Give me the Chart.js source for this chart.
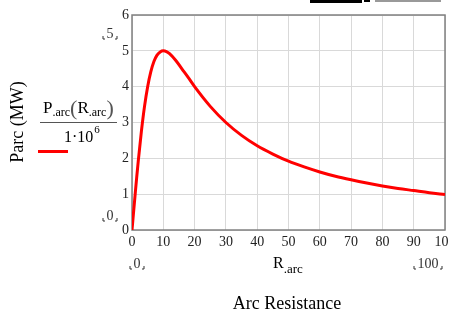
<!DOCTYPE html>
<html><head><meta charset="utf-8">
<script src="https://cdn.jsdelivr.net/npm/chart.js@4/dist/chart.umd.min.js"></script>
<style>html,body{margin:0;padding:0;background:#fff;overflow:hidden}#wrap{width:449px;height:312px;position:relative}</style>
</head><body><div id="wrap"><canvas id="c" width="449" height="312"></canvas></div>
<script>
const rArc = [0,0.5,1,1.5,2,3,4,5,6,7,8,9,10,11,12,14,16,18,20,25,30,35,40,45,50,55,60,65,70,75,80,85,90,95,100];
const pArc = [0,0.50,0.99,1.47,1.92,2.75,3.45,4.0,4.41,4.70,4.88,4.97,5.0,4.98,4.92,4.73,4.49,4.25,4.0,3.45,3.0,2.64,2.35,2.12,1.92,1.76,1.62,1.50,1.40,1.31,1.23,1.16,1.10,1.04,0.99];
const xTicks = [0,10,20,30,40,50,60,70,80,90,100];
const yTicks = [0,1,2,3,4,5,6];

const SERIF = '"Liberation Serif","Times New Roman",serif';
const points = rArc.map((r,i)=>({x:r,y:pArc[i]}));

function corners(ctx, x1, x2, y){
  ctx.save();ctx.strokeStyle='#333';ctx.lineWidth=1;
  ctx.beginPath();
  ctx.moveTo(x1,y-3);ctx.lineTo(x1,y);ctx.lineTo(x1+2,y);
  ctx.moveTo(x2,y-3);ctx.lineTo(x2,y);ctx.lineTo(x2-2,y);
  ctx.stroke();ctx.restore();
}

const extras = {
  id:'extras',
  beforeDatasetsDraw(chart){
    const a = chart.chartArea, ctx = chart.ctx;
    ctx.save();ctx.strokeStyle='#808080';ctx.lineWidth=1.5;
    ctx.strokeRect(a.left,a.top,a.right-a.left,a.bottom-a.top);
    ctx.restore();
  },
  afterDraw(chart){
    const ctx = chart.ctx;
    ctx.save();
    // top-right cut fragments
    ctx.fillStyle='#000';ctx.fillRect(310,0,52,3);ctx.fillRect(364,0,6,2);
    ctx.fillStyle='#999';ctx.fillRect(375,0,66,2);
    // y title rotated
    ctx.fillStyle='#000';
    ctx.font='18px '+SERIF;
    ctx.translate(18,122);ctx.rotate(-Math.PI/2);
    ctx.textAlign='center';ctx.textBaseline='middle';
    ctx.fillText('Parc (MW)',0,0);
    ctx.setTransform(1,0,0,1,0,0);
    // numerator
    ctx.textAlign='left';ctx.textBaseline='alphabetic';
    let x=43, base=113;
    ctx.font='17px '+SERIF;ctx.fillText('P',x,base);x+=ctx.measureText('P').width;
    ctx.font='12px '+SERIF;ctx.fillText('.arc',x,base+3);x+=ctx.measureText('.arc').width;
    ctx.font='22px '+SERIF;ctx.fillStyle='#555';ctx.fillText('(',x,base+2);x+=ctx.measureText('(').width;
    ctx.fillStyle='#000';
    ctx.font='17px '+SERIF;ctx.fillText('R',x,base);x+=ctx.measureText('R').width;
    ctx.font='12px '+SERIF;ctx.fillText('.arc',x,base+3);x+=ctx.measureText('.arc').width;
    ctx.font='22px '+SERIF;ctx.fillStyle='#555';ctx.fillText(')',x,base+2);
    ctx.fillStyle='#000';
    // fraction bar
    ctx.strokeStyle='#555';ctx.lineWidth=1;
    ctx.beginPath();ctx.moveTo(40,122.5);ctx.lineTo(117,122.5);ctx.stroke();
    // denominator
    ctx.font='16px '+SERIF;ctx.fillText('1\u00b710',64,142);
    let dw=ctx.measureText('1\u00b710').width;
    ctx.font='11px '+SERIF;ctx.fillText('6',64+dw+1,133);
    // legend line
    ctx.fillStyle='#ff0000';ctx.fillRect(38,150,30,3);
    // placeholders
    ctx.fillStyle='#333';ctx.font='14px '+SERIF;ctx.textAlign='center';
    ctx.fillText('5',110,38);corners(ctx,103,117,39);
    ctx.fillText('0',110,220);corners(ctx,103,117,221);
    ctx.fillText('0',137,268);corners(ctx,130,144,269);
    ctx.fillText('100',428,268);corners(ctx,414,442,269);
    // R.arc label
    ctx.fillStyle='#000';ctx.textAlign='left';
    ctx.font='16px '+SERIF;ctx.fillText('R',273,268);
    let w=ctx.measureText('R').width;
    ctx.font='13px '+SERIF;ctx.fillText('.arc',273+w,273);
    // x title
    ctx.textAlign='center';ctx.font='18px '+SERIF;
    ctx.fillText('Arc Resistance',287,309);
    ctx.restore();
  }
};

new Chart(document.getElementById('c'),{
  type:'scatter',
  data:{datasets:[{data:points,showLine:true,borderColor:'#ff0000',borderWidth:3,pointRadius:0,cubicInterpolationMode:'monotone',fill:false}]},
  options:{
    responsive:false,animation:false,
    layout:{padding:{top:15,right:4,left:0,bottom:0}},
    plugins:{legend:{display:false},tooltip:{enabled:false}},
    scales:{
      x:{type:'linear',min:0,max:100,
        afterBuildTicks(s){s.ticks=xTicks.map(v=>({value:v}));},
        afterFit(s){s.height=82;s.paddingLeft=0;s.paddingRight=0;},
        ticks:{color:'#222',font:{family:SERIF,size:14},padding:4,maxRotation:0,autoSkip:false},
        grid:{color:'#d9d9d9',lineWidth:1,drawTicks:false},
        border:{display:false}},
      y:{min:0,max:6,
        afterBuildTicks(s){s.ticks=yTicks.map(v=>({value:v}));},
        afterFit(s){s.width=132;s.paddingTop=0;s.paddingBottom=0;},
        ticks:{color:'#222',font:{family:SERIF,size:14},padding:3},
        grid:{color:'#d9d9d9',lineWidth:1,drawTicks:false},
        border:{display:false}}
    }
  },
  plugins:[extras]
});
</script></body></html>
